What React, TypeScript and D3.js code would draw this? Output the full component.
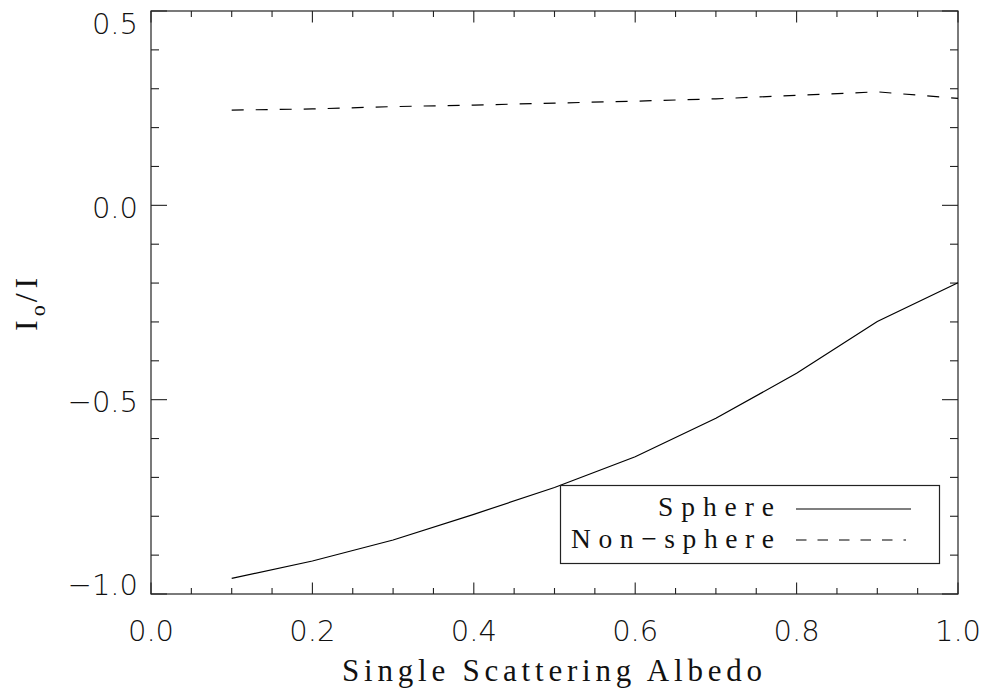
import React from "react";
import * as d3 from "d3";

const albedo = [0.1, 0.2, 0.3, 0.4, 0.5, 0.6, 0.7, 0.8, 0.9, 1.0];
const sphere = [-0.96, -0.915, -0.861, -0.795, -0.726, -0.647, -0.548, -0.432, -0.299, -0.199];
const nonSphere = [0.245, 0.248, 0.254, 0.258, 0.263, 0.268, 0.274, 0.283, 0.292, 0.275];

const xMajor = [0, 0.2, 0.4, 0.6, 0.8, 1.0];
const xLabels = ["0.0", "0.2", "0.4", "0.6", "0.8", "1.0"];
const yMajor = [-1.0, -0.5, 0.0, 0.5];
const yLabels = ["\u22121.0", "\u22120.5", "0.0", "0.5"];

const W = 983;
const H = 688;
const L = 151, R = 958, T = 11, B = 594;

export default function App() {
  const x = d3.scaleLinear().domain([0, 1]).range([L, R]);
  const y = d3.scaleLinear().domain([-1, 0.5]).range([B, T]);
  const xMinor = d3.range(0, 1.0001, 0.05);
  const yMinor = d3.range(-1, 0.5001, 0.1);
  const line = d3
    .line<number>()
    .x((_, i) => x(albedo[i]))
    .y((d) => y(d));

  const axisColor = "#222";
  const tickFont = "'DejaVu Sans', sans-serif";
  const serif = "'Liberation Serif', 'DejaVu Serif', serif";

  const isMajorX = (v: number) => xMajor.some((m) => Math.abs(m - v) < 1e-6);
  const isMajorY = (v: number) => yMajor.some((m) => Math.abs(m - v) < 1e-6);

  return (
    <svg width={W} height={H} style={{ position: "absolute", left: 0, top: 0, background: "#fff" }}>
      <rect x={0} y={0} width={W} height={H} fill="#fff" />
      <rect x={L} y={T} width={R - L} height={B - T} fill="none" stroke={axisColor} strokeWidth={1.2} />
      {xMinor.map((v, i) => {
        const len = isMajorX(v) ? 11.5 : 6;
        const px = x(v);
        return (
          <g key={"xt" + i}>
            <line x1={px} x2={px} y1={B} y2={B - len} stroke={axisColor} strokeWidth={1.1} />
            <line x1={px} x2={px} y1={T} y2={T + len} stroke={axisColor} strokeWidth={1.1} />
          </g>
        );
      })}
      {yMinor.map((v, i) => {
        const len = isMajorY(v) ? 16 : 8;
        const py = y(v);
        return (
          <g key={"yt" + i}>
            <line x1={L} x2={L + len} y1={py} y2={py} stroke={axisColor} strokeWidth={1.1} />
            <line x1={R} x2={R - len} y1={py} y2={py} stroke={axisColor} strokeWidth={1.1} />
          </g>
        );
      })}
      {xMajor.map((v, i) => (
        <text
          key={"xl" + i}
          x={x(v)}
          y={B + 47}
          textAnchor="middle"
          fontFamily={tickFont}
          fontWeight={200}
          fontSize={29}
          fill="#111"
        >
          {xLabels[i]}
        </text>
      ))}
      {yMajor.map((v, i) => {
        const base = Math.min(Math.max(y(v) + 12.3, T + 22.5), B + 1);
        return (
          <text
            key={"yl" + i}
            x={L - 13}
            y={base}
            textAnchor="end"
            fontFamily={tickFont}
            fontWeight={200}
            fontSize={29}
            fill="#111"
          >
            {yLabels[i]}
          </text>
        );
      })}
      <text
        x={342}
        y={681}
        fontFamily={serif}
        fontSize={31}
        textLength={420}
        lengthAdjust="spacing"
        fill="#111"
      >
        Single Scattering Albedo
      </text>
      <text
        transform="translate(37,331) rotate(-90)"
        fontFamily={serif}
        fontSize={32}
        fill="#111"
      >
        <tspan>I</tspan>
        <tspan fontSize={22} dx={4} dy={8}>o</tspan>
        <tspan dx={3} dy={-8}>/</tspan>
        <tspan dx={5}>I</tspan>
      </text>
      <path d={line(sphere) || ""} fill="none" stroke="#000" strokeWidth={1.2} />
      <path d={line(nonSphere) || ""} fill="none" stroke="#000" strokeWidth={1.2} strokeDasharray="12 12" />
      <rect x={560.5} y={485.5} width={379} height={78} fill="#fff" stroke={axisColor} strokeWidth={1.2} />
      <text x={774} y={516} textAnchor="end" fontFamily={serif} fontSize={27.5} textLength={116} lengthAdjust="spacing" fill="#111">
        Sphere
      </text>
      <text x={774} y={548} textAnchor="end" fontFamily={serif} fontSize={27.5} textLength={203} lengthAdjust="spacing" fill="#111">
        Non{"\u2212"}sphere
      </text>
      <line x1={796} x2={911} y1={509} y2={509} stroke="#000" strokeWidth={1.2} />
      <line x1={796} x2={906} y1={540} y2={540} stroke="#000" strokeWidth={1.2} strokeDasharray="10.5 11" />
    </svg>
  );
}
